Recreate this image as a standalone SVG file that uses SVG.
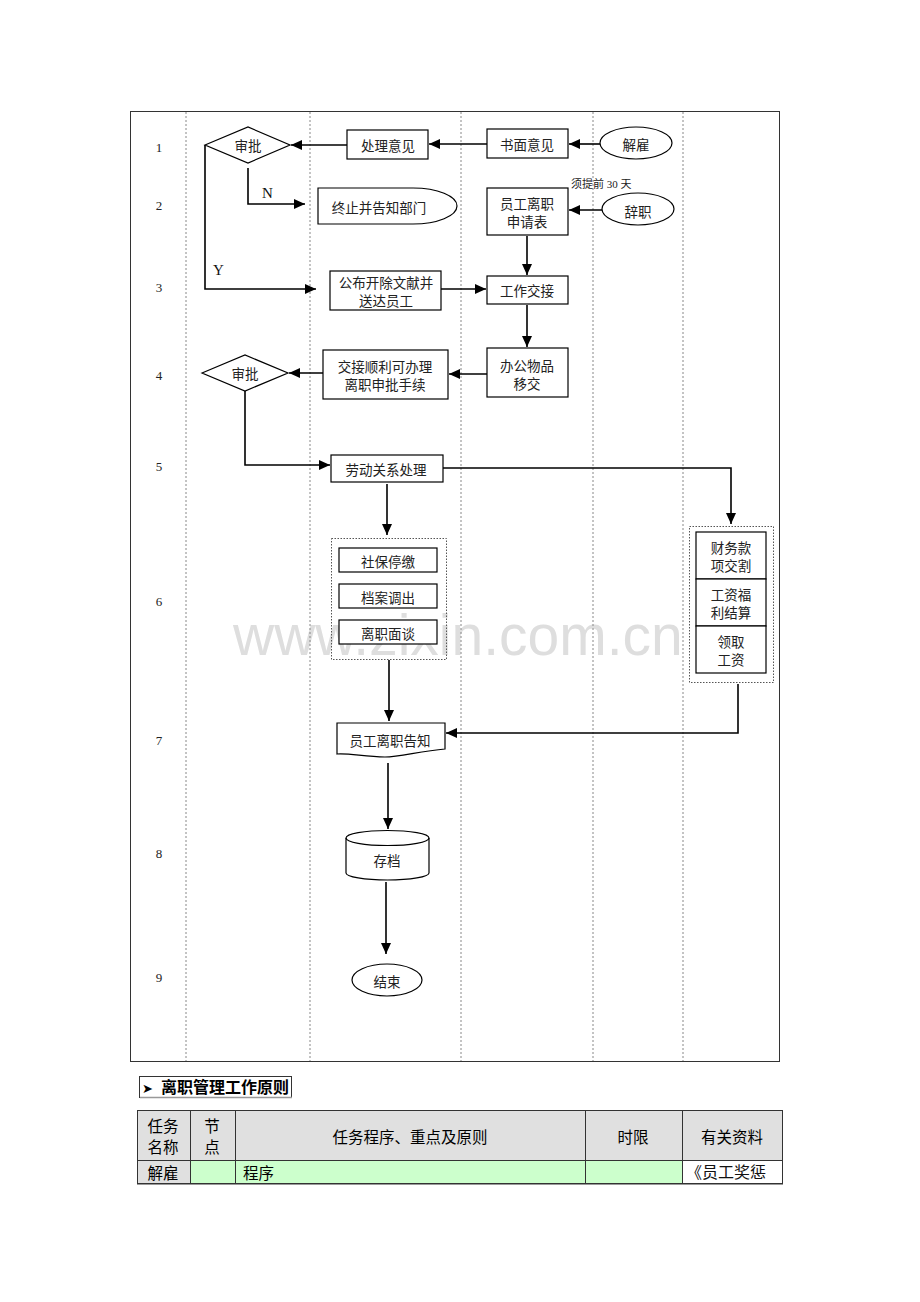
<svg xmlns="http://www.w3.org/2000/svg" width="920" height="1302" viewBox="0 0 920 1302">
<style>
.bg{fill:#fff}
.box{fill:#fff;stroke:#000;stroke-width:1.2}
.cont{fill:none;stroke:#555;stroke-width:1;stroke-dasharray:1.5 1.5}
.lane{stroke:#888;stroke-width:1;stroke-dasharray:2 2}
.t{font-family:"Noto Sans CJK SC","Noto Sans",sans-serif;font-size:13.5px;fill:#222;text-anchor:middle;dominant-baseline:central}
.num{font-family:"Liberation Serif",serif;font-size:13px;fill:#222;text-anchor:middle;dominant-baseline:central}
.lbl{font-family:"Liberation Serif",serif;font-size:15px;fill:#111}
.small{font-family:"Liberation Serif","Noto Sans CJK SC",serif;font-size:11px;fill:#222}
.conn path{fill:none;stroke:#000;stroke-width:1.6}
.th{font-family:"Noto Sans CJK SC",sans-serif;font-size:15.5px;fill:#000;dominant-baseline:central}
.mid{text-anchor:middle}
.wm{font-family:"Liberation Sans",Arial,sans-serif;font-size:57px;fill:#dedede}
</style>
<defs>
<marker id="ah" markerUnits="userSpaceOnUse" markerWidth="12" markerHeight="10" refX="11" refY="5" orient="auto">
<path d="M0,0 L11,5 L0,10 Z" fill="#000"/>
</marker>
</defs>
<rect class="bg" x="0" y="0" width="920" height="1302"/>
<text class="wm" x="233" y="655">www.zixin.com.cn</text>

<g id="frame">
<rect x="130.5" y="111.5" width="649" height="950" fill="none" stroke="#333" stroke-width="1"/>
<line class="lane" x1="186" y1="112" x2="186" y2="1061"/>
<line class="lane" x1="310" y1="112" x2="310" y2="1061"/>
<line class="lane" x1="461" y1="112" x2="461" y2="1061"/>
<line class="lane" x1="593" y1="112" x2="593" y2="1061"/>
<line class="lane" x1="683" y1="112" x2="683" y2="1061"/>
</g>

<g id="rownums">
<text class="num" x="159" y="147">1</text>
<text class="num" x="159" y="205">2</text>
<text class="num" x="159" y="287">3</text>
<text class="num" x="159" y="375">4</text>
<text class="num" x="159" y="466">5</text>
<text class="num" x="159" y="601">6</text>
<text class="num" x="159" y="740">7</text>
<text class="num" x="159" y="853">8</text>
<text class="num" x="159" y="977">9</text>
</g>

<g class="conn" id="connectors">
<path d="M600,144 H569" marker-end="url(#ah)"/>
<path d="M487,144 H429" marker-end="url(#ah)"/>
<path d="M347,145 H291" marker-end="url(#ah)"/>
<path d="M248,168 V204 H305" marker-end="url(#ah)"/>
<path d="M205,145 V289 H316" marker-end="url(#ah)"/>
<path d="M441,289 H486" marker-end="url(#ah)"/>
<path d="M602,210 H569" marker-end="url(#ah)"/>
<path d="M527,236 V275" marker-end="url(#ah)"/>
<path d="M527,305 V347" marker-end="url(#ah)"/>
<path d="M487,374 H449" marker-end="url(#ah)"/>
<path d="M323,373 H289" marker-end="url(#ah)"/>
<path d="M245,391 V465 H330" marker-end="url(#ah)"/>
<path d="M443,468 H731 V524" marker-end="url(#ah)"/>
<path d="M387,484 V535" marker-end="url(#ah)"/>
<path d="M389,660 V721" marker-end="url(#ah)"/>
<path d="M738,684 V733 H446" marker-end="url(#ah)"/>
<path d="M388,763 V829" marker-end="url(#ah)"/>
<path d="M386,882 V954" marker-end="url(#ah)"/>
<text class="lbl" x="262" y="198">N</text>
<text class="lbl" x="213" y="275">Y</text>
</g>

<g id="n-jiegu"><ellipse class="box" cx="636" cy="143" rx="36" ry="16"/><text class="t" x="636" y="144">解雇</text></g>
<g id="n-shumian"><rect class="box" x="487" y="129" width="81" height="29"/><text class="t" x="527" y="144">书面意见</text></g>
<g id="n-chuli"><rect class="box" x="347" y="130" width="81" height="29"/><text class="t" x="388" y="145">处理意见</text></g>
<g id="n-shenpi1"><polygon class="box" points="205,145 248,127 290,145 248,163"/><text class="t" x="248" y="145">审批</text></g>
<g id="n-zhongzhi"><path class="box" d="M318,188 H413 A44,18 0 0 1 413,224 H318 Z"/><text class="t" x="379" y="207">终止并告知部门</text></g>
<g id="n-shenqing"><rect class="box" x="487" y="188" width="81" height="47"/><text class="t" x="527" y="203">员工离职</text><text class="t" x="527" y="221">申请表</text>
<text class="small" x="571" y="188">须提前 30 天</text></g>
<g id="n-cizhi"><ellipse class="box" cx="638" cy="209" rx="36" ry="16"/><text class="t" x="638" y="211">辞职</text></g>
<g id="n-gongbu"><rect class="box" x="330" y="271" width="111" height="39"/><text class="t" x="386" y="282">公布开除文献并</text><text class="t" x="386" y="300">送达员工</text></g>
<g id="n-jiaojie"><rect class="box" x="487" y="276" width="81" height="28"/><text class="t" x="527" y="290">工作交接</text></g>
<g id="n-bangong"><rect class="box" x="487" y="348" width="81" height="49"/><text class="t" x="527" y="365">办公物品</text><text class="t" x="527" y="383">移交</text></g>
<g id="n-shunli"><rect class="box" x="323" y="350" width="125" height="49"/><text class="t" x="385" y="366">交接顺利可办理</text><text class="t" x="385" y="384">离职申批手续</text></g>
<g id="n-shenpi2"><polygon class="box" points="202,373 245,355 288,373 245,391"/><text class="t" x="245" y="373">审批</text></g>
<g id="n-laodong"><rect class="box" x="331" y="455" width="112" height="27"/><text class="t" x="386" y="469">劳动关系处理</text></g>
<g id="n-left-group"><rect class="cont" x="331.5" y="538.5" width="115" height="121"/>
<rect class="box" x="339" y="548" width="98" height="24"/><text class="t" x="388" y="561">社保停缴</text>
<rect class="box" x="339" y="584" width="98" height="24"/><text class="t" x="388" y="597">档案调出</text>
<rect class="box" x="339" y="620" width="98" height="24"/><text class="t" x="388" y="633">离职面谈</text></g>
<g id="n-right-group"><rect class="cont" x="689.5" y="526.5" width="84" height="156"/>
<rect class="box" x="696" y="532" width="70" height="47"/><text class="t" x="731" y="547">财务款</text><text class="t" x="731" y="565">项交割</text>
<rect class="box" x="696" y="579" width="70" height="47"/><text class="t" x="731" y="594">工资福</text><text class="t" x="731" y="612">利结算</text>
<rect class="box" x="696" y="626" width="70" height="47"/><text class="t" x="731" y="641">领取</text><text class="t" x="731" y="659">工资</text></g>
<g id="n-gaozhi"><path class="box" d="M337,723 H445 V749 C420,751 400,757 385,757 C365,757 350,753 337,754 Z"/><text class="t" x="390" y="740">员工离职告知</text></g>
<g id="n-cundang"><path class="box" d="M346,838 A41.5,7.5 0 0 1 429,838 V873 A41.5,7 0 0 1 346,873 Z"/><path d="M346,838 A41.5,7.5 0 0 0 429,838" fill="none" stroke="#000" stroke-width="1.2"/><text class="t" x="387" y="860">存档</text></g>
<g id="n-jieshu"><ellipse class="box" cx="387" cy="980" rx="35" ry="16"/><text class="t" x="387" y="981">结束</text></g>

<g id="section-title">
<rect x="139.5" y="1076.5" width="152" height="21" fill="#fff" stroke="#333" stroke-width="1"/>
<line x1="140" y1="1097.5" x2="292" y2="1097.5" stroke="#999" stroke-width="1.5"/>
<text x="142" y="1093" font-family="DejaVu Sans,sans-serif" font-size="13" fill="#000">➤</text>
<text x="161" y="1093" font-family="Noto Sans CJK SC,sans-serif" font-size="16" font-weight="bold" fill="#000">离职管理工作原则</text>
</g>

<g id="table">
<rect x="137" y="1110" width="646" height="50" fill="#e0e0e0"/>
<rect x="137" y="1160" width="53" height="24" fill="#e0e0e0"/>
<rect x="190" y="1160" width="492" height="24" fill="#ccffcc"/>
<rect x="682" y="1160" width="101" height="24" fill="#fff"/>
<g stroke="#333" stroke-width="1" fill="none">
<rect x="137.5" y="1110.5" width="645" height="73"/>
<line x1="137" y1="1160.5" x2="783" y2="1160.5"/>
<line x1="190.5" y1="1110" x2="190.5" y2="1184"/>
<line x1="235.5" y1="1110" x2="235.5" y2="1184"/>
<line x1="585.5" y1="1110" x2="585.5" y2="1184"/>
<line x1="682.5" y1="1110" x2="682.5" y2="1184"/>
</g>
<line x1="137" y1="1184.5" x2="783" y2="1184.5" stroke="#999" stroke-width="1"/>
<text class="th mid" x="163" y="1125">任务</text>
<text class="th mid" x="163" y="1146">名称</text>
<text class="th mid" x="212" y="1125">节</text>
<text class="th mid" x="212" y="1146">点</text>
<text class="th mid" x="410" y="1136">任务程序、重点及原则</text>
<text class="th mid" x="633" y="1136">时限</text>
<text class="th mid" x="732" y="1136">有关资料</text>
<text class="th mid" x="163" y="1172">解雇</text>
<text class="th" x="243" y="1172">程序</text>
<text x="686" y="1178" font-family="Liberation Serif,Noto Sans CJK SC,serif" font-size="16" fill="#111">《员工奖惩</text>
</g>
</svg>
